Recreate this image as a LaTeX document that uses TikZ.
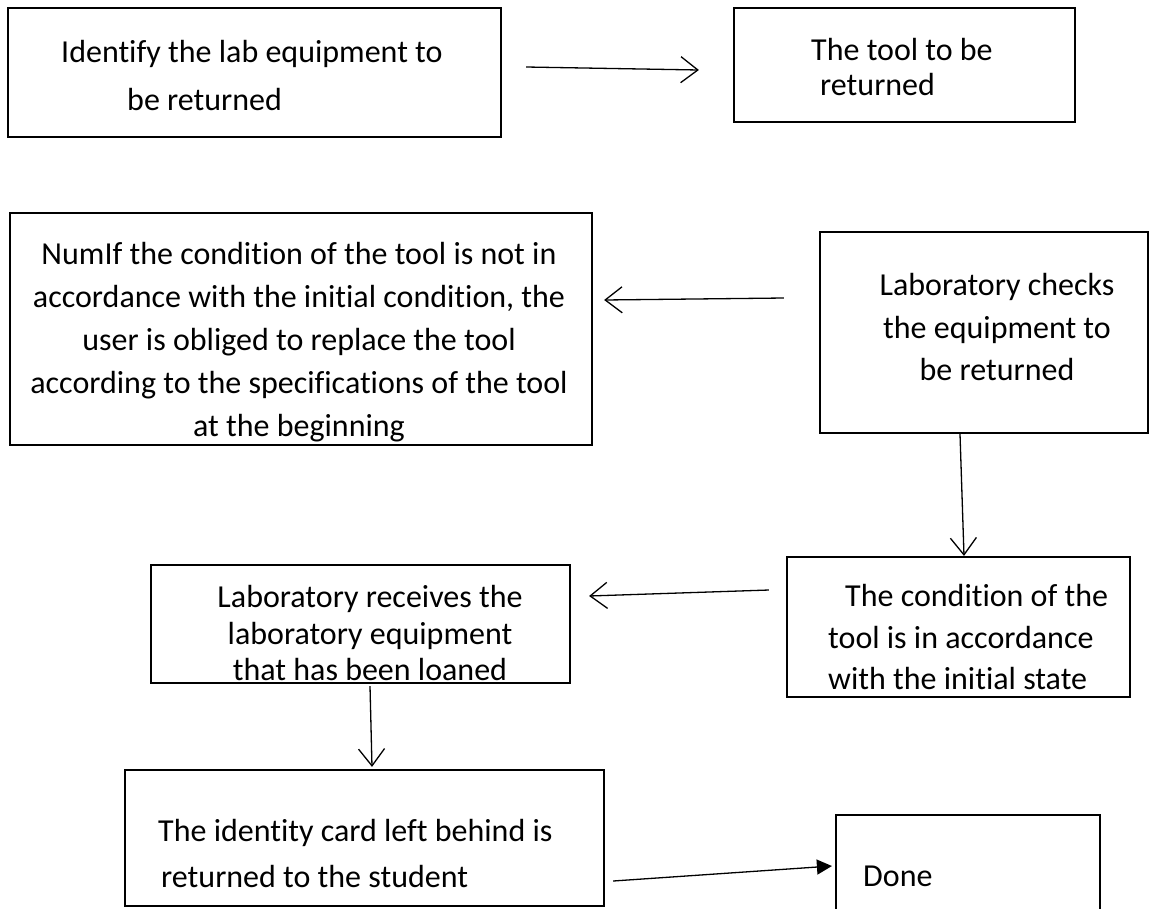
\documentclass[tikz,border=0pt]{standalone}
\usepackage{fontspec}
\setmainfont{Carlito}[Ligatures=NoCommon]
\usetikzlibrary{arrows.meta}

\begin{document}
\begin{tikzpicture}[x=1pt, y=-1pt,
	box/.style={draw, line width=2.2pt, minimum width=#1},
	txt/.style={font=\fontsize{32}{#1}\selectfont, inner sep=0pt},
	txt/.default=43,
	arr/.style={line width=1.3pt, -{Straight Barb[length=17pt,width=26pt,line width=1.3pt]}},
	arrf/.style={line width=1.3pt, -{Triangle[length=15pt,width=15pt]}}]
	\useasboundingbox (0,0) rectangle (1158,908);

	\node (ident) at (254.5,72.5) [box=493pt, minimum height=129pt] {};
	\node (tool) at (904.5,65) [box=341pt, minimum height=114pt] {};
	\node (replace) at (301,329) [box=582pt, minimum height=232pt] {};
	\node (check) at (984,332.5) [box=328pt, minimum height=201pt] {};
	\node (cond) at (958.5,627) [box=343pt, minimum height=140pt] {};
	\node (receive) at (360.5,624) [box=419pt, minimum height=118pt] {};
	\node (card) at (364.5,838) [box=479pt, minimum height=136pt] {};
	\node (done) at (968,907.5) [box=264pt, minimum height=185pt] {};

	\node (identtxt) at (61,76) [txt=48, anchor=west, align=left] {Identify the lab equipment to\\\hspace*{66pt}be returned};
	\node (tooltxt) at (811,67) [txt=35, anchor=west, align=left] {The tool to be\\\hspace*{9pt}returned};
	\node (replacetxt) at (299,342) [txt=43, align=center] {NumIf the condition of the tool is not in\\accordance with the initial condition, the\\user is obliged to replace the tool\\according to the specifications of the tool\\at the beginning};
	\node (checktxt) at (997,327) [txt=42.5, align=center] {Laboratory checks\\the equipment to\\be returned};
	\node (condtxt) at (828,637) [txt=41.5, anchor=west, align=left] {\hspace*{17pt}The condition of the\\tool is in accordance\\with the initial state};
	\node (receivetxt) at (370,633) [txt=36.5, align=center] {Laboratory receives the\\laboratory equipment\\that has been loaned};
	\node (cardtxt) at (158,853) [txt=46, anchor=west, align=left] {The identity card left behind is\\\hspace*{3pt}returned to the student};
	\node (donetxt) at (863,876) [txt, anchor=west] {Done};

	\path[arr]
		([shift={(24,-5.5)}]ident.east) edge ([shift={(-34,5)}]tool.west)
		([shift={(-35,-34.5)}]check.west) edge ([shift={(11,-29)}]replace.east)
		([shift={(-24,0)}]check.south) edge ([shift={(5.5,0)}]cond.north)
		([shift={(-17,-37)}]cond.west) edge ([shift={(18,-28)}]receive.east)
		([shift={(9.5,2)}]receive.south) edge ([shift={(7.5,-2)}]card.north);
	\path[arrf]
		([shift={(8,43)}]card.east) edge ([shift={(-3,-41.5)}]done.west);
\end{tikzpicture}
\end{document}
